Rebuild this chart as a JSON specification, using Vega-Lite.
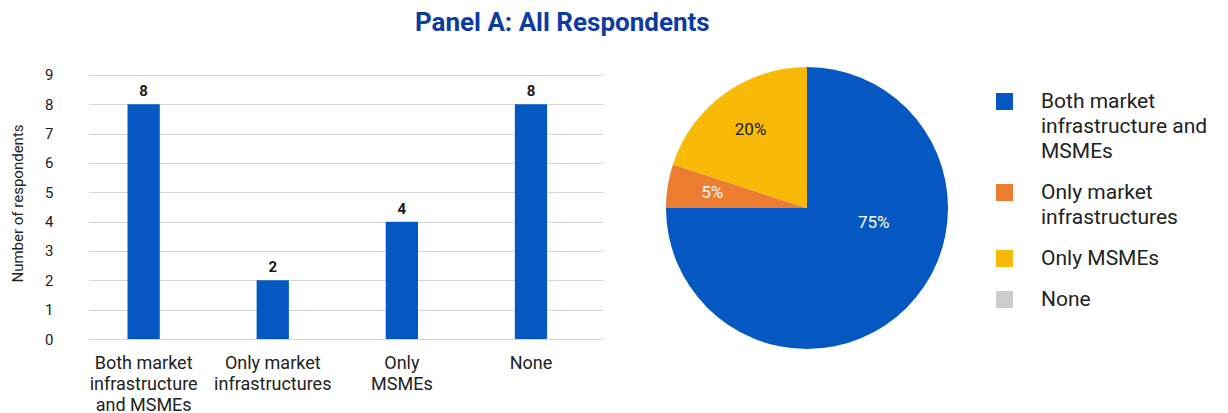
{
  "$schema": "https://vega.github.io/schema/vega-lite/v6.json",
  "padding": {"left": 10, "top": 10, "right": 5, "bottom": 0},
  "config": {"view": {"stroke": null}, "font": "Roboto"},
  "title": {"text": "Panel A: All Respondents", "fontSize": 26, "fontWeight": "bold", "color": "#0D3BA0", "anchor": "middle", "offset": 31, "dx": -59},
  "datasets": {
    "bars": [
      {"cat": "Both market infrastructure and MSMEs", "n": 8},
      {"cat": "Only market infrastructures", "n": 2},
      {"cat": "Only MSMEs", "n": 4},
      {"cat": "None", "n": 8}
    ],
    "pie": [
      {"cat": "Both market infrastructure and MSMEs", "pct": 75, "label": "75%", "idx": 1},
      {"cat": "Only market infrastructures", "pct": 5, "label": "5%", "idx": 2},
      {"cat": "Only MSMEs", "pct": 20, "label": "20%", "idx": 3},
      {"cat": "None", "pct": 0, "label": "", "idx": 4}
    ]
  },
  "spacing": 63,
  "hconcat": [
    {
      "width": 514,
      "height": 272,
      "data": {"name": "bars"},
      "encoding": {
        "x": {
          "field": "cat", "type": "nominal", "sort": null,
          "scale": {"paddingInner": 0.75, "paddingOuter": 0.3655, "align": 0.408},
          "axis": {
            "title": null, "labelAngle": 0, "ticks": false, "domain": false,
            "labelFontSize": 18, "labelLineHeight": 21, "labelPadding": 15, "labelColor": "#222222",
            "labelBaseline": "top",
            "labelExpr": "datum.value == 'Both market infrastructure and MSMEs' ? ['Both market', 'infrastructure', 'and MSMEs'] : datum.value == 'Only market infrastructures' ? ['Only market', 'infrastructures'] : datum.value == 'Only MSMEs' ? ['Only', 'MSMEs'] : datum.value"
          }
        },
        "y": {
          "field": "n", "type": "quantitative",
          "scale": {"domain": [0, 9.27], "nice": false},
          "axis": {
            "values": [0, 1, 2, 3, 4, 5, 6, 7, 8, 9],
            "grid": true, "gridColor": "#D6D6D6", "domain": false, "ticks": false,
            "labelFontSize": 15, "labelPadding": 36, "labelColor": "#222222",
            "title": "Number of respondents", "titleFontSize": 15, "titleFontWeight": "normal",
            "titleColor": "#222222", "titlePadding": 19
          }
        }
      },
      "layer": [
        {"mark": {"type": "bar", "color": "#0558C1"}},
        {"mark": {"type": "text", "dy": -13, "fontSize": 15, "fontWeight": "bold", "color": "#1A1A1A"},
         "encoding": {"text": {"field": "n", "type": "quantitative"}}}
      ]
    },
    {
      "width": 282,
      "height": 282,
      "data": {"name": "pie"},
      "encoding": {
        "theta": {"field": "pct", "type": "quantitative", "stack": true},
        "order": {"field": "idx", "type": "quantitative"},
        "color": {
          "field": "cat", "type": "nominal",
          "scale": {
            "domain": ["Both market infrastructure and MSMEs", "Only market infrastructures", "Only MSMEs", "None"],
            "range": ["#0558C1", "#ED7D31", "#F9BA07", "#CCCCCC"]
          },
          "legend": {
            "title": null, "orient": "right", "offset": 22, "padding": 24,
            "symbolType": "square", "symbolSize": 289, "symbolStrokeWidth": 0,
            "labelFontSize": 21, "labelColor": "#222222", "labelOffset": 26, "labelLimit": 300,
            "rowPadding": 19,
            "labelExpr": "datum.label == 'Both market infrastructure and MSMEs' ? ['Both market', 'infrastructure and', 'MSMEs'] : datum.label == 'Only market infrastructures' ? ['Only market', 'infrastructures'] : datum.label",
            "encode": {"labels": {"update": {"lineHeight": {"value": 25}}}}
          }
        }
      },
      "layer": [
        {"mark": {"type": "arc", "outerRadius": 141}},
        {"mark": {"type": "text", "radius": 96, "fontSize": 17},
         "encoding": {
           "text": {"condition": {"test": "datum.cat == 'Only market infrastructures' || datum.cat == 'Only MSMEs'", "field": "label"}, "value": ""},
           "color": {"condition": {"test": "datum.cat == 'Only MSMEs'", "value": "#1A1A1A"}, "value": "#FFFFFF"}
         }},
        {"mark": {"type": "text", "radius": 69, "dx": 18, "dy": -34, "fontSize": 17, "color": "#FFFFFF"},
         "encoding": {
           "text": {"condition": {"test": "datum.cat == 'Both market infrastructure and MSMEs'", "field": "label"}, "value": ""},
           "color": {"value": "#FFFFFF"}
         }}
      ]
    }
  ]
}
